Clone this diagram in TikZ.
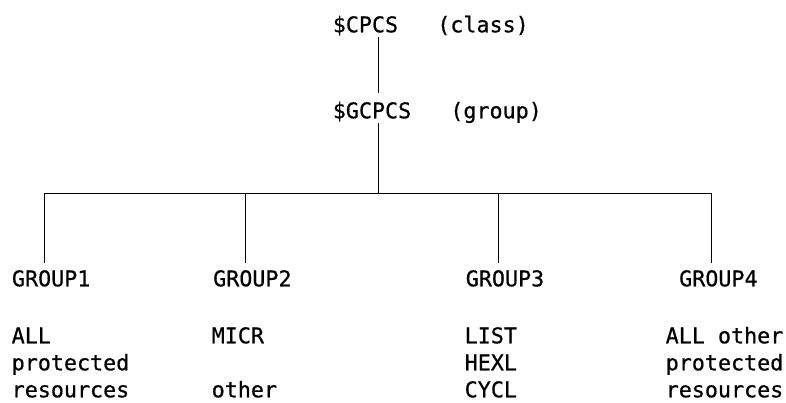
\documentclass[tikz,border=0pt]{standalone}
\usepackage{fontspec}
\newfontfamily\panelfont[FakeBold=0.6]{DejaVu Sans Mono}
\usetikzlibrary{positioning}

\begin{document}
\begin{tikzpicture}[x=1pt,y=-1pt,
    every node/.style={inner sep=0pt,anchor=base west,
      font=\panelfont\fontsize{21.7}{27}\selectfont},
    desc/.style={align=left},
    wire/.style={line width=1.3pt}]
      \useasboundingbox (0,0) rectangle (786,402);
      % class and group profiles
      \node (cpcs) at (332.6,32.3) {\$CPCS~~~(class)};
      \node (gcpcs) at (332.6,118.3) {\$GCPCS~~~(group)};
      % the four groups
      \node (g1) at (11.8,286.3) {GROUP1};
      \node (g2) at (213,286.3) {GROUP2};
      \node (g3) at (465.6,286.3) {GROUP3};
      \node (g4) at (679,286.3) {GROUP4};
      % what each group holds (base = last line)
      \node[desc] (d1) at (11.5,397.3) {ALL\\protected\\resources};
      \node[desc] (d2) at (211.5,397.3) {MICR\\{}\\other};
      \node[desc] (d3) at (464.5,397.3) {LIST\\HEXL\\CYCL};
      \node[desc] (d4) at (665.5,397.3) {ALL other\\protected\\resources};
      % connectors
      \draw[wire,shorten <=1.5pt,shorten >=8.8pt] ([xshift=45.7pt]cpcs.south west) -- ([xshift=45.7pt]gcpcs.north west);
      \draw[wire] ([xshift=45.7pt]gcpcs.south west) -- ++(0,70) coordinate (bus);
      \foreach \g in {g1,g2,g3,g4}
        \draw[wire] ([xshift=32.7pt,yshift=7pt]\g.north west) |- (bus);
\end{tikzpicture}
\end{document}
